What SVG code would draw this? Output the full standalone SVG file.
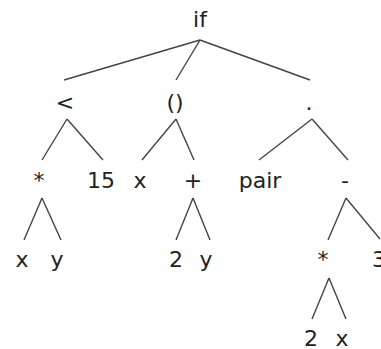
<svg xmlns="http://www.w3.org/2000/svg" width="381" height="349" viewBox="0 0 381 349">
<style>
text{font-family:"DejaVu Sans",sans-serif;font-size:22px;fill:#222;text-anchor:middle}
line{stroke:#444;stroke-width:1.4}
</style>
<rect width="381" height="349" fill="#fff"/>
<g id="connectors">
<line x1="200" y1="40" x2="64" y2="80"/>
<line x1="200" y1="40" x2="176" y2="80"/>
<line x1="200" y1="40" x2="310" y2="80"/>
<line x1="67" y1="119" x2="42" y2="160"/>
<line x1="67" y1="119" x2="103" y2="160"/>
<line x1="176" y1="119" x2="142" y2="160"/>
<line x1="176" y1="119" x2="194" y2="160"/>
<line x1="312" y1="119" x2="259" y2="160"/>
<line x1="312" y1="119" x2="348" y2="160"/>
<line x1="42" y1="198" x2="24" y2="240"/>
<line x1="42" y1="198" x2="61" y2="240"/>
<line x1="193" y1="198" x2="176" y2="240"/>
<line x1="193" y1="198" x2="210" y2="240"/>
<line x1="346" y1="198" x2="328" y2="240"/>
<line x1="346" y1="198" x2="380" y2="239"/>
<line x1="329" y1="278" x2="312" y2="319"/>
<line x1="329" y1="278" x2="346" y2="319"/>
</g>
<g id="n-if"><text x="200" y="27">if</text></g>
<g id="n-lt"><text x="65" y="110">&lt;</text></g>
<g id="n-paren"><text x="175" y="110">()</text></g>
<g id="n-dot"><text x="309" y="110">.</text></g>
<g id="n-mul1"><text x="39" y="188">*</text></g>
<g id="n-15"><text x="101" y="188">15</text></g>
<g id="n-x1"><text x="140" y="188">x</text></g>
<g id="n-plus"><text x="193" y="188">+</text></g>
<g id="n-pair"><text x="260" y="188">pair</text></g>
<g id="n-minus"><text x="345" y="188">-</text></g>
<g id="n-x2"><text x="22" y="267">x</text></g>
<g id="n-y1"><text x="57" y="267">y</text></g>
<g id="n-2a"><text x="176" y="267">2</text></g>
<g id="n-y2"><text x="206" y="267">y</text></g>
<g id="n-mul2"><text x="323" y="267">*</text></g>
<g id="n-3"><text x="379" y="267">3</text></g>
<g id="n-2b"><text x="311" y="346">2</text></g>
<g id="n-x3"><text x="342" y="346">x</text></g>
</svg>
